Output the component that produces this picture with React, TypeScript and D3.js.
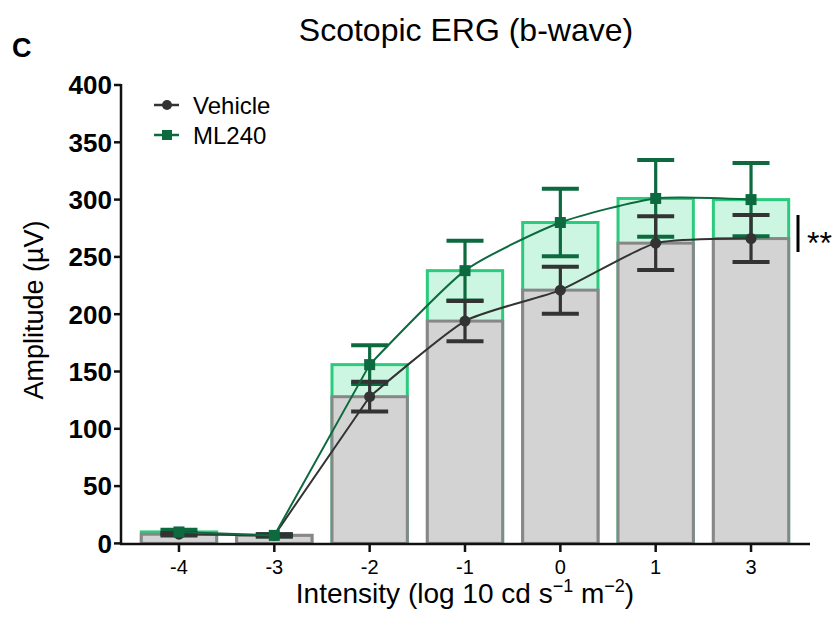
import React from "react";
import * as d3 from "d3";

const categories = ["-4", "-3", "-2", "-1", "0", "1", "3"];
const vehicleMean = [8, 7, 128, 194, 221, 262, 266];
const vehicleSem = [1, 1, 13, 17.5, 20.5, 23.5, 20.5];
const ml240Mean = [10, 7, 156, 238, 280, 301, 300];
const ml240Sem = [2, 1, 17, 26, 29.5, 33.5, 32];
const yTicks = [0, 50, 100, 150, 200, 250, 300, 350, 400];

const W = 835;
const H = 635;
const axisX = 121;
const axisY = 544;

const GREEN_DARK = "#0d6a3f";
const GREEN_STROKE = "#2bcb7d";
const GREEN_FILL = "#cdf6e2";
const GRAY_FILL = "#d3d3d3";
const GRAY_STROKE = "#878787";
const BLACK = "#333333";
const FONT = "'Liberation Sans', Arial, sans-serif";

export default function App() {
  const x = d3
    .scaleBand<string>()
    .domain(categories)
    .range([131.3, 798.7])
    .paddingInner(0.21)
    .paddingOuter(0.105);
  const y = d3.scaleLinear().domain([0, 400]).range([543.4, 85]);
  const cx = (c: string) => (x(c) as number) + x.bandwidth() / 2;
  const bw = x.bandwidth();

  type P = { c: string; v: number };
  const toPts = (arr: number[]): P[] => arr.map((v, i) => ({ c: categories[i], v }));
  const linear = d3
    .line<P>()
    .x((d) => cx(d.c))
    .y((d) => y(d.v));
  const smooth = d3
    .line<P>()
    .x((d) => cx(d.c))
    .y((d) => y(d.v))
    .curve(d3.curveCardinal.tension(0.4));
  const seriesPath = (arr: number[]) => {
    const pts = toPts(arr);
    return (linear(pts.slice(0, 3)) as string) + (smooth(pts.slice(2)) as string);
  };

  const capHalf = 18.5;

  const errorBars = (means: number[], sems: number[], color: string) =>
    means.map((m, i) => {
      const c = cx(categories[i]);
      const top = y(m + sems[i]);
      const bot = y(m - sems[i]);
      return (
        <g key={i} stroke={color} strokeWidth={3.2}>
          <line x1={c} x2={c} y1={top} y2={bot} />
          <line x1={c - capHalf} x2={c + capHalf} y1={top} y2={top} strokeWidth={4} />
          <line x1={c - capHalf} x2={c + capHalf} y1={bot} y2={bot} strokeWidth={4} />
        </g>
      );
    });

  return (
    <svg
      width={W}
      height={H}
      style={{ position: "absolute", left: 0, top: 0, background: "#fff" }}
      fontFamily={FONT}
    >
      {/* green bars behind */}
      {ml240Mean.map((v, i) => (
        <rect
          key={"g" + i}
          x={x(categories[i]) as number}
          y={y(v)}
          width={bw}
          height={y(0) - y(v)}
          fill={GREEN_FILL}
          stroke={GREEN_STROKE}
          strokeWidth={3}
        />
      ))}
      {/* gray bars */}
      {vehicleMean.map((v, i) => (
        <rect
          key={"v" + i}
          x={x(categories[i]) as number}
          y={y(v)}
          width={bw}
          height={y(0) - y(v)}
          fill={GRAY_FILL}
          stroke={GRAY_STROKE}
          strokeWidth={3}
        />
      ))}

      {/* axes */}
      <line x1={axisX} x2={axisX} y1={84} y2={axisY + 1} stroke="#111" strokeWidth={2.5} />
      <line x1={axisX - 1} x2={810} y1={axisY} y2={axisY} stroke="#111" strokeWidth={2.5} />
      {yTicks.map((t) => (
        <g key={"yt" + t}>
          <line x1={axisX - 7} x2={axisX} y1={y(t)} y2={y(t)} stroke="#111" strokeWidth={2.5} />
          <text
            x={axisX - 9}
            y={y(t)}
            dy="0.36em"
            textAnchor="end"
            fontSize={26}
            fontWeight="bold"
            fill="#000"
          >
            {t}
          </text>
        </g>
      ))}
      {categories.map((c) => (
        <g key={"xt" + c}>
          <line x1={cx(c)} x2={cx(c)} y1={axisY} y2={axisY + 8} stroke="#111" strokeWidth={2.5} />
          <text x={cx(c)} y={574} textAnchor="middle" fontSize={20} fill="#000">
            {c}
          </text>
        </g>
      ))}

      {/* error bars */}
      {errorBars(ml240Mean, ml240Sem, GREEN_DARK)}
      {errorBars(vehicleMean, vehicleSem, BLACK)}

      {/* lines */}
      <path d={seriesPath(vehicleMean)} fill="none" stroke={BLACK} strokeWidth={2} />
      <path d={seriesPath(ml240Mean)} fill="none" stroke={GREEN_DARK} strokeWidth={2} />

      {/* markers */}
      {vehicleMean.map((v, i) => (
        <circle key={"vc" + i} cx={cx(categories[i])} cy={y(v)} r={5.5} fill={BLACK} />
      ))}
      {ml240Mean.map((v, i) => (
        <rect
          key={"gm" + i}
          x={cx(categories[i]) - 5.5}
          y={y(v) - 5.5}
          width={11}
          height={11}
          fill={GREEN_DARK}
        />
      ))}

      {/* significance */}
      <line x1={798} x2={798} y1={215} y2={252} stroke="#000" strokeWidth={3} />
      <text x={807} y={254} fontSize={32} fill="#000">
        **
      </text>

      {/* legend */}
      <line x1={154} x2={179} y1={105} y2={105} stroke={BLACK} strokeWidth={2.5} />
      <circle cx={167} cy={105} r={5} fill={BLACK} />
      <text x={193} y={105} dy="0.36em" fontSize={24} fill="#000">
        Vehicle
      </text>
      <line x1={154} x2={179} y1={135} y2={135} stroke={GREEN_DARK} strokeWidth={2.5} />
      <rect x={162} y={130} width={10} height={10} fill={GREEN_DARK} />
      <text x={193} y={135} dy="0.36em" fontSize={24} fill="#000">
        ML240
      </text>

      {/* titles */}
      <text x={466} y={41} textAnchor="middle" fontSize={32} fill="#000">
        Scotopic ERG (b-wave)
      </text>
      <text x={12} y={57} fontSize={27} fontWeight="bold" fill="#000">
        C
      </text>
      <text
        transform={`translate(43,310) rotate(-90)`}
        textAnchor="middle"
        fontSize={27}
        fill="#000"
      >
        Amplitude (µV)
      </text>
      <text x={465} y={603} textAnchor="middle" fontSize={28} fill="#000">
        Intensity (log 10 cd s
        <tspan dy={-11} fontSize={18}>−1</tspan>
        <tspan dy={11}> m</tspan>
        <tspan dy={-11} fontSize={18}>−2</tspan>
        <tspan dy={11}>)</tspan>
      </text>
    </svg>
  );
}
